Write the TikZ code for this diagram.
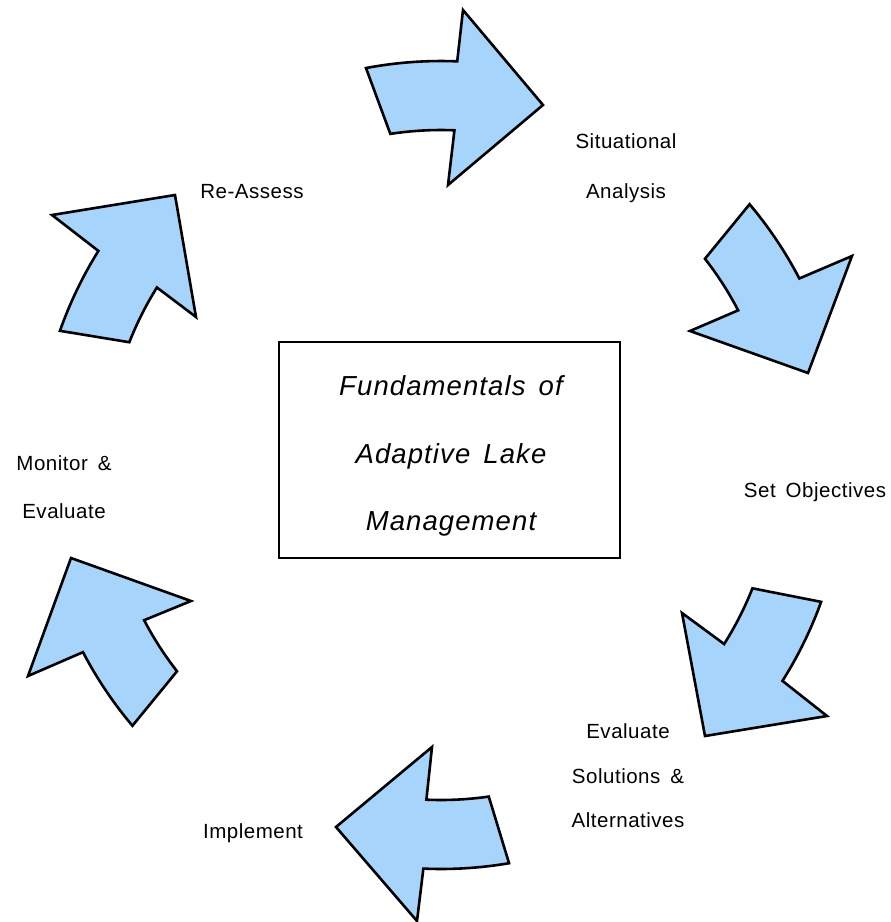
\documentclass[tikz,border=0pt]{standalone}
\usepackage{fontspec}
\setmainfont{Liberation Sans}
\newfontfamily\lblfont[LetterSpace=2.5,WordSpace=1.6]{Liberation Sans}
\newfontfamily\ttlfont[LetterSpace=4,WordSpace=1.5]{Liberation Sans}
\usetikzlibrary{calc}
\definecolor{arrowblue}{RGB}{166,212,250}
\tikzset{
  bluearrow/.style={draw=black, fill=arrowblue, line width=2.6pt, line join=miter},
  lbl/.style={anchor=base, inner sep=0pt, font=\lblfont\fontsize{20.5}{23}\selectfont},
  ttl/.style={anchor=base, inner sep=0pt, font=\ttlfont\itshape\fontsize{27.5}{31}\selectfont},
  titlebox/.style={draw=black, line width=1.4pt, fill=none}
}
\begin{document}
\begin{tikzpicture}[x=1pt,y=-1pt]
\useasboundingbox (0,0) rectangle (891,922);
\coordinate (C) at (441,465);
% centre box
\draw[titlebox] (279,342) rectangle (620,558);
\node[ttl] (t1) at (451,395) {Fundamentals of};
\node[ttl] (t2) at (451,463) {Adaptive Lake};
\node[ttl] (t3) at (451,530) {Management};
% arrow 1 (top)
\draw[bluearrow] ($(C)+(-100.7:404)$) arc[start angle=-100.7,end angle=-87.7,radius=404]
  -- (463,10) -- (543,105) -- (448,185)
  -- ($(C)+(-87.7:335)$) arc[start angle=-87.7,end angle=-98.7,radius=335] -- cycle;
% arrow 2 (upper right)
\draw[bluearrow] ($(C)+(-40.2:404)$) arc[start angle=-40.2,end angle=-27.5,radius=404]
  -- (852,256) -- (808,373) -- (690,331)
  -- ($(C)+(-27.5:335)$) arc[start angle=-27.5,end angle=-38,radius=335] -- cycle;
% arrow 3 (lower right)
\draw[bluearrow] ($(C)+(19.8:404)$) arc[start angle=19.8,end angle=32.3,radius=404]
  -- (827,716) -- (705,736) -- (682,613)
  -- ($(C)+(32.3:335)$) arc[start angle=32.3,end angle=21.6,radius=335] -- cycle;
% arrow 4 (bottom)
\draw[bluearrow] ($(C)+(92.5:335)$) arc[start angle=92.5,end angle=81.8,radius=335]
  -- ($(C)+(80.3:404)$) arc[start angle=80.3,end angle=92.5,radius=404]
  -- (417,921) -- (336,827) -- (432,747) -- cycle;
% arrow 5 (lower left)
\draw[bluearrow] (191,601) -- ($(C)+(152.4:335)$) arc[start angle=152.4,end angle=142,radius=335]
  -- ($(C)+(139.8:404)$) arc[start angle=139.8,end angle=152.4,radius=404]
  -- (28,676) -- (71,558) -- cycle;
% arrow 6 (upper left)
\draw[bluearrow] (196,317) -- ($(C)+(-148:335)$) arc[start angle=-148,end angle=-158.5,radius=335]
  -- ($(C)+(-160.6:404)$) arc[start angle=-160.6,end angle=-148,radius=404]
  -- (52,215) -- (175,195) -- cycle;
% labels
\node[lbl] (sa1) at (626,148) {Situational};
\node[lbl] (sa2) at (626,198) {Analysis};
\node[lbl] (so) at (815,497) {Set Objectives};
\node[lbl] (es1) at (628,738) {Evaluate};
\node[lbl] (es2) at (628,783) {Solutions \&};
\node[lbl] (es3) at (628,827) {Alternatives};
\node[lbl] (im) at (253,838) {Implement};
\node[lbl] (me1) at (64,470) {Monitor \&};
\node[lbl] (me2) at (64,518) {Evaluate};
\node[lbl] (ra) at (252,198) {Re-Assess};
\end{tikzpicture}
\end{document}
